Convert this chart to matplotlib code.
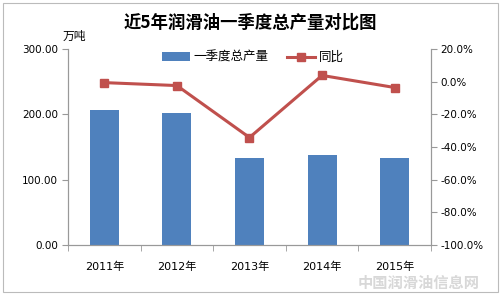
import matplotlib.pyplot as plt
from matplotlib.patches import Rectangle
from matplotlib.ticker import FuncFormatter

plt.rcParams['font.family'] = ['DejaVu Sans', 'Noto Sans CJK SC']

years = ['2011年', '2012年', '2013年', '2014年', '2015年']
output = [207.0, 202.0, 133.0, 138.0, 133.0]   # 万吨
yoy = [-0.6, -2.4, -34.2, 3.8, -3.6]            # %

fig = plt.figure(figsize=(5.01, 2.95), dpi=100)
ax = fig.add_axes([0.1357, 0.1695, 0.7245, 0.6645])
ax2 = ax.twinx()

x = range(len(years))
bars = ax.bar(x, output, width=0.4, color='#4F81BD', label='一季度总产量', zorder=2)
line, = ax2.plot(x, yoy, color='#C0504D', lw=2.2, marker='s', ms=6,
                 label='同比', zorder=3)

ax.set_xlim(-0.5, 4.5)
ax.set_ylim(0, 300)
ax.set_yticks([0, 100, 200, 300])
ax.yaxis.set_major_formatter(FuncFormatter(lambda v, p: '%.2f' % v))
ax2.set_ylim(-100, 20)
ax2.set_yticks(range(-100, 21, 20))
ax2.yaxis.set_major_formatter(FuncFormatter(lambda v, p: '%.1f%%' % v))

ax.set_xticks(list(x))
ax.set_xticklabels(years)
ax.set_xticks([i - 0.5 for i in range(6)], minor=True)
ax.tick_params(axis='x', which='major', length=0, pad=12, labelsize=8)
ax.tick_params(axis='x', which='minor', length=4, color='#999999')
ax.tick_params(axis='y', length=4, color='#999999', labelsize=7.5, pad=3)
ax2.tick_params(axis='y', length=4, color='#999999', labelsize=7.5, pad=3)

for a in (ax, ax2):
    a.spines['top'].set_visible(False)
    for s in ('left', 'right', 'bottom'):
        a.spines[s].set_color('#999999')
        a.spines[s].set_linewidth(0.8)

ax.set_zorder(ax2.get_zorder() - 1)
ax.patch.set_visible(False)

fig.text(0.5, 0.925, '近5年润滑油一季度总产量对比图', ha='center', va='center',
         fontsize=12.5, fontweight='bold', family=['Noto Sans CJK SC', 'DejaVu Sans'])
fig.text(0.148, 0.878, '万吨', ha='center', va='center', fontsize=8.5,
         family=['Noto Sans CJK SC', 'DejaVu Sans'])

fig.legend([bars, line], ['一季度总产量', '同比'], loc='center',
           bbox_to_anchor=(0.505, 0.805), ncol=2, frameon=False, fontsize=9,
           handlelength=2.2, columnspacing=1.5, handletextpad=0.3,
           prop={'family': ['Noto Sans CJK SC', 'DejaVu Sans'], 'size': 9})

fig.text(0.835, 0.042, '中国润滑油信息网', ha='center', va='center', fontsize=11,
         color='#d8d8d8', fontweight='bold', family=['Noto Sans CJK SC', 'DejaVu Sans'])

fig.patches.append(Rectangle((0.006, 0.01), 0.988, 0.98, transform=fig.transFigure,
                             fill=False, edgecolor='#bbbbbb', lw=0.8))

fig.savefig('out.png', dpi=100)
